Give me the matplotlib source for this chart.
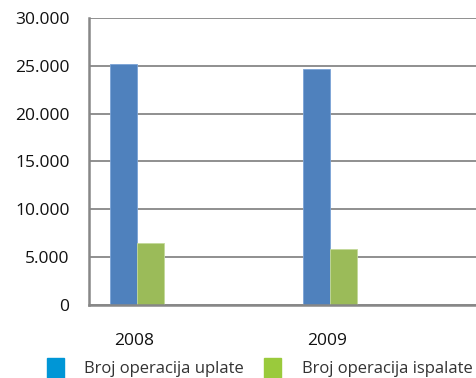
import matplotlib
matplotlib.use("Agg")
import matplotlib.pyplot as plt
import numpy as np

# broj operacija po godinama
years = ["2008", "2009"]
uplate = [25200, 24700]
isplate = [6500, 5850]
series_names = ["Broj operacija uplate", "Broj operacija ispalate"]
yticks = [0, 5000, 10000, 15000, 20000, 25000, 30000]
ytick_labels = ["0", "5.000", "10.000", "15.000", "20.000", "25.000", "30.000"]

plt.rcParams['font.family'] = ['Open Sans', 'DejaVu Sans']

W, H = 476, 378
fig = plt.figure(figsize=(W / 100, H / 100), dpi=100)
ax = fig.add_axes([89 / W, 73 / H, 1 - 89 / W, 287 / H])

x = np.arange(len(years))
bw = 0.14
ax.bar(x - bw / 2, uplate, bw, color="#4f81bd", edgecolor="#7aa3d6", linewidth=0.6, zorder=3)
ax.bar(x + bw / 2, isplate, bw, color="#9bbb59", edgecolor="#c3d99a", linewidth=0.6, zorder=3)

ax.set_xlim(-0.249, 1.756)
ax.set_ylim(0, 30000)
ax.set_yticks(yticks)
ax.set_yticklabels(ytick_labels)
ax.set_xticks(x - 0.015)
ax.set_xticklabels(years)
ax.tick_params(axis="y", length=0, pad=14, labelsize=12.5, labelcolor="#111111")
ax.tick_params(axis="x", length=0, pad=20, labelsize=12.5, labelcolor="#111111")

ax.grid(axis="y", color="#878787", linewidth=1.3, zorder=0)
ax.set_axisbelow(True)
for side in ["top", "right"]:
    ax.spines[side].set_visible(False)
for side in ["left", "bottom"]:
    ax.spines[side].set_color("#878787")
    ax.spines[side].set_linewidth(1.8)
    ax.spines[side].set_zorder(4)

handles = [plt.Rectangle((0, 0), 1, 1, color="#0096d6"),
           plt.Rectangle((0, 0), 1, 1, color="#9aca3c")]
fig.legend(handles, series_names, loc="lower left",
           bbox_to_anchor=(47 / W, 0), ncol=2, frameon=False,
           fontsize=12, handlelength=1.0, handleheight=1.5,
           handletextpad=1.25, columnspacing=1.2, borderpad=0, borderaxespad=0,
           labelcolor="#333333")

fig.savefig("out.png", dpi=100)
